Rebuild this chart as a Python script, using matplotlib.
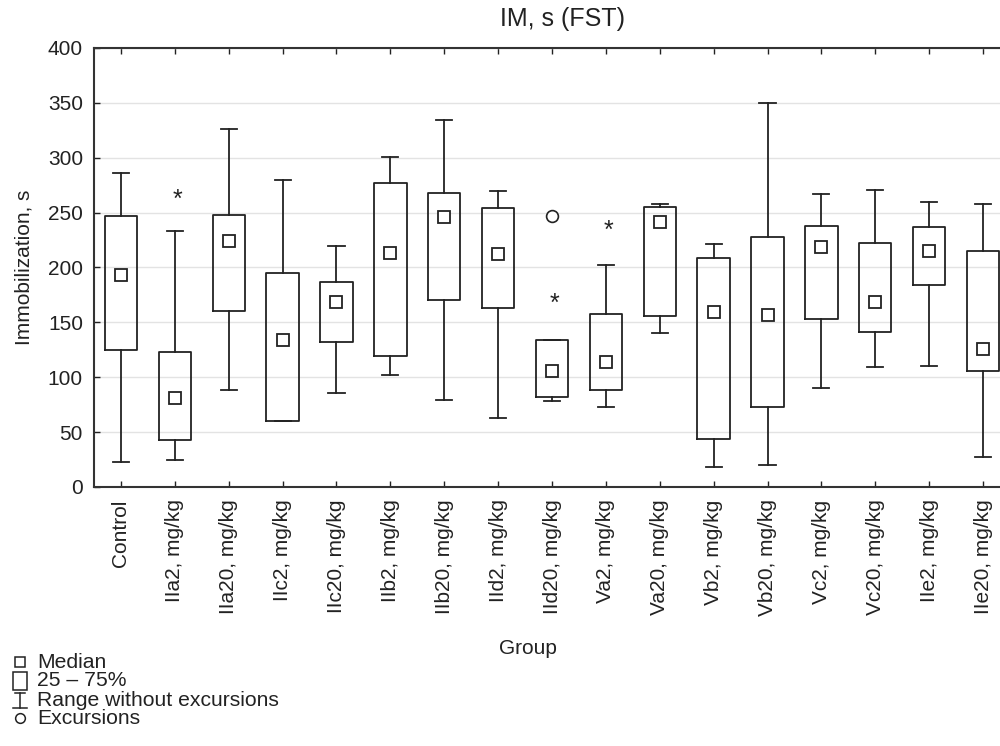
import matplotlib
matplotlib.use("Agg")
import matplotlib.pyplot as plt
from matplotlib.lines import Line2D
from matplotlib.patches import Rectangle

plt.rcParams['font.family'] = ['Liberation Sans', 'DejaVu Sans']

# box statistics (seconds)
groups = ["Control", "IIa2, mg/kg", "IIa20, mg/kg", "IIc2, mg/kg", "IIc20, mg/kg",
          "IIb2, mg/kg", "IIb20, mg/kg", "IId2, mg/kg", "IId20, mg/kg", "Va2, mg/kg",
          "Va20, mg/kg", "Vb2, mg/kg", "Vb20, mg/kg", "Vc2, mg/kg", "Vc20, mg/kg",
          "IIe2, mg/kg", "IIe20, mg/kg"]
medians = [193, 81, 224, 134, 169, 213, 246, 212, 106, 114, 241, 159, 157, 219, 169, 215, 126]
q1 = [125, 43, 160, 60, 132, 119, 170, 163, 82, 88, 156, 44, 73, 153, 141, 184, 106]
q3 = [247, 123, 248, 195, 187, 277, 268, 254, 134, 158, 255, 209, 228, 238, 222, 237, 215]
whis_lo = [23, 25, 88, 60, 86, 102, 79, 63, 78, 73, 140, 18, 20, 90, 109, 110, 27]
whis_hi = [286, 233, 326, 280, 220, 301, 334, 270, 134, 202, 258, 221, 350, 267, 271, 260, 258]
# excursions: (group index, value)
circles = [(8, 247)]
stars = [(1, 262), (8, 167), (9, 233)]

stats = []
for i in range(len(groups)):
    stats.append(dict(med=medians[i], q1=q1[i], q3=q3[i], whislo=whis_lo[i],
                      whishi=whis_hi[i], fliers=[], mean=medians[i]))

fig = plt.figure(figsize=(10, 7.46), dpi=100)
ax = fig.add_axes([0.094, 0.3472, 0.916, 0.5885])

k = '#222222'
ax.bxp(stats, positions=range(1, len(groups) + 1), widths=0.6, capwidths=0.3,
       showmeans=True, showfliers=False,
       boxprops=dict(color=k, linewidth=1.3),
       whiskerprops=dict(color=k, linewidth=1.3),
       capprops=dict(color=k, linewidth=1.3),
       medianprops=dict(linewidth=0),
       meanprops=dict(marker='s', markersize=8, markerfacecolor='white',
                      markeredgecolor=k, markeredgewidth=1.3))

for g, v in circles:
    ax.plot(g + 1, v, 'o', ms=8.5, mfc='white', mec=k, mew=1.2)
for g, v in stars:
    ax.text(g + 1.05, v, '*', ha='center', va='center', fontsize=18, color=k)

ax.set_xlim(0.5, len(groups) + 0.5)
ax.set_ylim(0, 400)
ax.set_yticks(range(0, 401, 50))
ax.set_xticks(range(1, len(groups) + 1))
ax.set_xticklabels(groups, rotation=90)
ax.yaxis.grid(True, color='#e3e3e3', linewidth=1)
ax.set_axisbelow(True)
ax.tick_params(direction='in', top=True, bottom=True, left=True, length=4,
               width=1, colors=k, labelsize=15, labelcolor=k)
ax.tick_params(axis='x', pad=9)
ax.tick_params(axis='y', pad=8)
for s in ax.spines.values():
    s.set_color('#333333')
    s.set_linewidth(1.5)

ax.set_ylabel('Immobilization, s', fontsize=15, color=k, labelpad=10)
fig.text(0.563, 0.975, 'IM, s (FST)', ha='center', va='center', fontsize=18, color=k)
fig.text(0.528, 1 - 648 / 746, 'Group', ha='center', va='center', fontsize=15, color=k)

# legend drawn in pixel-like coordinates at the bottom left
leg = fig.add_axes([0, 0, 1, 1], facecolor='none')
leg.set_xlim(0, 1000)
leg.set_ylim(746, 0)
leg.axis('off')
rows = [("Median", 662), ("25 \u2013 75%", 681), ("Range without excursions", 700),
        ("Excursions", 718)]
for txt, y in rows:
    leg.text(37, y, txt, ha='left', va='center', fontsize=15.2, color=k)
leg.plot(20, 662, 's', ms=7, mfc='white', mec=k, mew=1.1)
leg.add_patch(Rectangle((13, 672), 14, 18, fill=False, ec=k, lw=1.1))
leg.add_line(Line2D([20, 20], [693, 708], color=k, lw=1.1))
leg.add_line(Line2D([15, 25], [693, 693], color=k, lw=1.1))
leg.add_line(Line2D([13, 27], [708, 708], color=k, lw=1.1))
leg.plot(20, 718, 'o', ms=7, mfc='white', mec=k, mew=1.1)

fig.savefig('out.png', dpi=100)
